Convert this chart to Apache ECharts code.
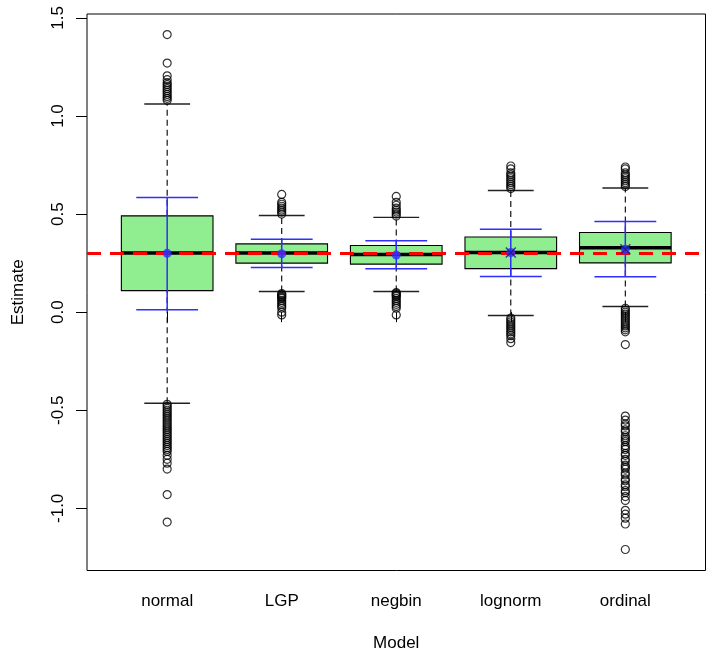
<!DOCTYPE html>
<html>
<head>
<meta charset="utf-8">
<script src="https://cdn.jsdelivr.net/npm/echarts@6/dist/echarts.min.js"></script>
<style>
  html, body { margin: 0; padding: 0; background: #fff; }
  #chart { width: 714px; height: 658px; }
</style>
</head>
<body>
<div id="chart"></div>
<script>
// model estimates, one box per model
const categories = ['normal', 'LGP', 'negbin', 'lognorm', 'ordinal'];
const whiskerLow = [-0.464, 0.105, 0.105, -0.017, 0.029];
const q1 = [0.110, 0.250, 0.245, 0.222, 0.251];
const median = [0.301, 0.301, 0.294, 0.304, 0.328];
const q3 = [0.491, 0.348, 0.340, 0.383, 0.406];
const whiskerHigh = [1.061, 0.493, 0.483, 0.620, 0.633];

// blue: mean and interval
const means = [0.300, 0.298, 0.291, 0.304, 0.321];
const barLow = [0.012, 0.228, 0.221, 0.182, 0.180];
const barHigh = [0.585, 0.372, 0.364, 0.423, 0.462];

const trueValue = 0.3;
const yTicks = [-1.0, -0.5, 0.0, 0.5, 1.0, 1.5];

const outNormal = [1.415, 1.27, 1.205, 1.185, 1.17, 1.16, 1.15, 1.14, 1.13, 1.12, 1.11, 1.10, 1.09, 1.08,
  -0.47, -0.48, -0.49, -0.50, -0.51, -0.52, -0.53, -0.54, -0.55, -0.56, -0.57, -0.58, -0.59, -0.60,
  -0.61, -0.62, -0.63, -0.64, -0.65, -0.66, -0.67, -0.68, -0.69, -0.70, -0.71, -0.73, -0.75, -0.77,
  -0.80, -0.93, -1.07];
const outLGP = [0.60, 0.56, 0.55, 0.54, 0.53, 0.52, 0.51, 0.50,
  0.095, 0.09, 0.085, 0.08, 0.075, 0.07, 0.06, 0.05, 0.04, 0.03, 0.02, 0.0, -0.014];
const outNegbin = [0.59, 0.56, 0.545, 0.53, 0.52, 0.51, 0.50, 0.49,
  0.10, 0.095, 0.09, 0.085, 0.08, 0.07, 0.06, 0.05, 0.04, 0.03, 0.02, -0.014];
const outLognorm = [0.745, 0.73, 0.71, 0.70, 0.69, 0.68, 0.67, 0.66, 0.65, 0.64, 0.63,
  -0.03, -0.04, -0.05, -0.06, -0.07, -0.08, -0.09, -0.10, -0.11, -0.12, -0.135, -0.155];
const outOrdinal = [0.74, 0.73, 0.71, 0.70, 0.69, 0.68, 0.67, 0.66, 0.65, 0.64,
  0.02, 0.01, 0.0, -0.01, -0.02, -0.03, -0.04, -0.05, -0.06, -0.07, -0.08, -0.09, -0.10, -0.165,
  -0.53, -0.55, -0.57, -0.58, -0.60, -0.61, -0.63, -0.64, -0.65, -0.66, -0.68, -0.69, -0.70,
  -0.72, -0.73, -0.75, -0.76, -0.78, -0.79, -0.80, -0.82, -0.83, -0.85, -0.86, -0.88, -0.89,
  -0.91, -0.92, -0.94, -0.96, -1.01, -1.03, -1.05, -1.08, -1.21];
const outliers = [outNormal, outLGP, outNegbin, outLognorm, outOrdinal];

const FONT = '"Liberation Sans", Arial, sans-serif';
const BLUE = '#2e2eff';

const boxData = categories.map(function (c, i) {
  return [i + 1, whiskerLow[i], q1[i], median[i], q3[i], whiskerHigh[i]];
});
const outlierData = [];
outliers.forEach(function (arr, i) {
  arr.forEach(function (v) { outlierData.push([i + 1, v]); });
});
const barData = categories.map(function (c, i) { return [i + 1, barLow[i], barHigh[i]]; });
const meanData = categories.map(function (c, i) { return [i + 1, means[i]]; });

function renderBox(params, api) {
  const x = api.value(0);
  const lo = api.coord([x, api.value(1)]);
  const b1 = api.coord([x, api.value(2)]);
  const md = api.coord([x, api.value(3)]);
  const b3 = api.coord([x, api.value(4)]);
  const hi = api.coord([x, api.value(5)]);
  const hw = api.size([0.4, 0])[0];
  const sw = api.size([0.2, 0])[0];
  const dash = {stroke: '#000', lineWidth: 1.1, lineDash: [6, 4]};
  const staple = {stroke: '#222', lineWidth: 1.4};
  return {
    type: 'group',
    children: [
      {type: 'line', shape: {x1: lo[0], y1: lo[1], x2: b1[0], y2: b1[1]}, style: dash},
      {type: 'line', shape: {x1: b3[0], y1: b3[1], x2: hi[0], y2: hi[1]}, style: dash},
      {type: 'line', shape: {x1: lo[0] - sw, y1: lo[1], x2: lo[0] + sw, y2: lo[1]}, style: staple},
      {type: 'line', shape: {x1: hi[0] - sw, y1: hi[1], x2: hi[0] + sw, y2: hi[1]}, style: staple},
      {type: 'rect', shape: {x: b3[0] - hw, y: b3[1], width: 2 * hw, height: b1[1] - b3[1]},
        style: {fill: '#90ee90', stroke: '#000', lineWidth: 1.1}},
      {type: 'line', shape: {x1: md[0] - hw, y1: md[1], x2: md[0] + hw, y2: md[1]},
        style: {stroke: '#000', lineWidth: 3.5}}
    ]
  };
}

function renderBar(params, api) {
  const x = api.value(0);
  const lo = api.coord([x, api.value(1)]);
  const hi = api.coord([x, api.value(2)]);
  const cw = api.size([0.27, 0])[0];
  const st = {stroke: BLUE, lineWidth: 1.5};
  return {
    type: 'group',
    children: [
      {type: 'line', shape: {x1: lo[0], y1: lo[1], x2: hi[0], y2: hi[1]}, style: st},
      {type: 'line', shape: {x1: lo[0] - cw, y1: lo[1], x2: lo[0] + cw, y2: lo[1]}, style: st},
      {type: 'line', shape: {x1: hi[0] - cw, y1: hi[1], x2: hi[0] + cw, y2: hi[1]}, style: st}
    ]
  };
}

const chart = echarts.init(document.getElementById('chart'));
const option = {
  animation: false,
  backgroundColor: '#fff',
  grid: {
    left: 87, right: 8.5, top: 14, bottom: 87.5,
    show: true, borderColor: '#000', borderWidth: 1
  },
  xAxis: {
    type: 'value',
    min: 0.3,
    max: 5.7,
    name: 'Model',
    nameLocation: 'middle',
    nameGap: 64,
    nameTextStyle: {fontFamily: FONT, fontSize: 17, color: '#000'},
    splitLine: {show: false},
    axisLine: {show: false},
    axisTick: {show: true, customValues: [1, 2, 3, 4, 5], length: 10, lineStyle: {color: '#000'}},
    axisLabel: {
      customValues: [1, 2, 3, 4, 5],
      formatter: function (v) { return categories[Math.round(v) - 1]; },
      margin: 22, fontFamily: FONT, fontSize: 17, color: '#000'
    }
  },
  yAxis: {
    type: 'value',
    min: -1.317,
    max: 1.52,
    name: 'Estimate',
    nameLocation: 'middle',
    nameGap: 60,
    nameRotate: 90,
    nameTextStyle: {fontFamily: FONT, fontSize: 17, color: '#000'},
    splitLine: {show: false},
    axisLine: {show: false},
    axisTick: {show: true, customValues: yTicks, length: 11, lineStyle: {color: '#000'}},
    axisLabel: {
      customValues: yTicks,
      rotate: 90,
      formatter: function (v) { return v.toFixed(1); },
      margin: 20, fontFamily: FONT, fontSize: 17, color: '#000'
    }
  },
  series: [{
    type: 'custom',
    name: 'box',
    z: 2,
    renderItem: renderBox,
    data: boxData
  }, {
    type: 'scatter',
    name: 'outliers',
    z: 3,
    symbol: 'circle',
    symbolSize: 8,
    itemStyle: {color: 'rgba(0,0,0,0)', borderColor: '#000', borderWidth: 1.2},
    data: outlierData
  }, {
    type: 'line',
    name: 'true',
    z: 4,
    data: [],
    markLine: {
      silent: true,
      symbol: 'none',
      label: {show: false},
      lineStyle: {color: '#ff0000', width: 3, type: [14, 9]},
      data: [{yAxis: trueValue}]
    }
  }, {
    type: 'custom',
    name: 'interval',
    z: 5,
    renderItem: renderBar,
    data: barData
  }, {
    type: 'scatter',
    name: 'mean',
    z: 6,
    symbol: 'circle',
    symbolSize: 9,
    itemStyle: {color: BLUE},
    data: meanData
  }, {
    type: 'scatter',
    name: 'meanX',
    z: 7,
    symbol: 'path://M0,0L10,10M10,0L0,10',
    symbolSize: 10,
    itemStyle: {color: 'rgba(0,0,0,0)', borderColor: '#1a1a80', borderWidth: 1.5},
    data: meanData.slice(3)
  }]
};
chart.setOption(option);
</script>
</body>
</html>
